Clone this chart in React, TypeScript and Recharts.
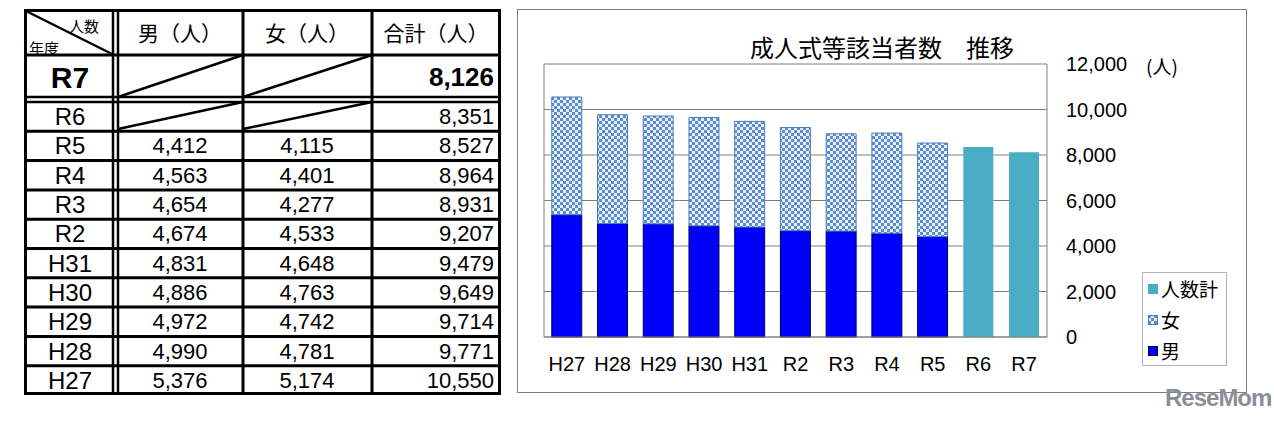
import { BarChart, Bar, XAxis, YAxis, CartesianGrid } from 'recharts'

// 年度 (oldest first, as in the chart)
const years = ['H27', 'H28', 'H29', 'H30', 'H31', 'R2', 'R3', 'R4', 'R5', 'R6', 'R7']
const male = [5376, 4990, 4972, 4886, 4831, 4674, 4654, 4563, 4412, null, null]
const female = [5174, 4781, 4742, 4763, 4648, 4533, 4277, 4401, 4115, null, null]
const totals = [10550, 9771, 9714, 9649, 9479, 9207, 8931, 8964, 8527, 8351, 8126]
const yTicks = [0, 2000, 4000, 6000, 8000, 10000, 12000]

const JP = '"Noto Sans CJK JP", "Noto Sans", sans-serif'
const LAT = '"Liberation Sans", Arial, sans-serif'

const BLUE = '#0000ff'
const TEAL = '#4bacc6'
const fmt = (v: number | null) => (v == null ? '' : v.toLocaleString('en-US'))

const chartData = years.map((y, i) => ({
  year: y,
  男: male[i],
  女: female[i],
  人数計: male[i] == null ? totals[i] : null,
}))

function Checker({ id }: { id: string }) {
  return (
    <pattern id={id} patternUnits="userSpaceOnUse" width={6} height={6}>
      <rect width={6} height={6} fill="#eaf1fb" />
      <rect width={3} height={3} fill="#5b8bd4" />
      <rect x={3} y={3} width={3} height={3} fill="#5b8bd4" />
    </pattern>
  )
}

function DataTable() {
  const rows = years.slice(0, 10).reverse() // R6 ... H27
  const rowTop = (i: number) => 102 + i * 29.3
  const lines: JSX.Element[] = []
  for (let i = 1; i < rows.length; i++) {
    const y = rowTop(i)
    lines.push(<line key={'h' + i} x1={24} x2={501} y1={y} y2={y} stroke="#000" strokeWidth={3} />)
  }
  return (
    <svg width={510} height={400} style={{ position: 'absolute', left: 0, top: 0 }}>
      <rect x={25.5} y={10.5} width={474} height={383} fill="#fff" stroke="#000" strokeWidth={3} />
      {/* header */}
      <line x1={24} x2={501} y1={55} y2={55} stroke="#000" strokeWidth={3} />
      <line x1={24} x2={501} y1={97} y2={97} stroke="#000" strokeWidth={2.5} />
      <line x1={24} x2={501} y1={102} y2={102} stroke="#000" strokeWidth={2.5} />
      <line x1={113} x2={113} y1={9} y2={395} stroke="#000" strokeWidth={2.5} />
      <line x1={118} x2={118} y1={9} y2={395} stroke="#000" strokeWidth={2.5} />
      <line x1={243} x2={243} y1={9} y2={395} stroke="#000" strokeWidth={3} />
      <line x1={372} x2={372} y1={9} y2={395} stroke="#000" strokeWidth={3} />
      {lines}
      <line x1={26} y1={11} x2={112} y2={54} stroke="#000" strokeWidth={2.5} />
      {/* slashes for R7 / R6 */}
      <line x1={118} y1={97} x2={243} y2={55} stroke="#000" strokeWidth={2.5} />
      <line x1={243} y1={97} x2={372} y2={55} stroke="#000" strokeWidth={2.5} />
      <line x1={118} y1={129} x2={243} y2={102} stroke="#000" strokeWidth={2.5} />
      <line x1={243} y1={129} x2={372} y2={102} stroke="#000" strokeWidth={2.5} />

      <text x={99} y={25} textAnchor="end" dominantBaseline="central" fontFamily={JP} fontSize={15}>人数</text>
      <text x={29} y={47} dominantBaseline="central" fontFamily={JP} fontSize={15}>年度</text>
      <text x={180} y={32} textAnchor="middle" dominantBaseline="central" fontFamily={JP} fontSize={21}>男（人）</text>
      <text x={307} y={32} textAnchor="middle" dominantBaseline="central" fontFamily={JP} fontSize={21}>女（人）</text>
      <text x={436} y={32} textAnchor="middle" dominantBaseline="central" fontFamily={JP} fontSize={21}>合計（人）</text>

      <text x={70} y={77} textAnchor="middle" dominantBaseline="central" fontFamily={LAT} fontWeight="bold" fontSize={30}>{years[10]}</text>
      <text x={494} y={77} textAnchor="end" dominantBaseline="central" fontFamily={LAT} fontWeight="bold" fontSize={26}>{fmt(totals[10])}</text>

      {rows.map((y, i) => {
        const idx = years.indexOf(y)
        const cy = rowTop(i) + 14.6
        return (
          <g key={y} fontFamily={LAT} dominantBaseline="central">
            <text x={70} y={cy} textAnchor="middle" fontSize={24}>{y}</text>
            <text x={180} y={cy} textAnchor="middle" fontSize={22}>{fmt(male[idx])}</text>
            <text x={307} y={cy} textAnchor="middle" fontSize={22}>{fmt(female[idx])}</text>
            <text x={494} y={cy} textAnchor="end" fontSize={22}>{fmt(totals[idx])}</text>
          </g>
        )
      })}
    </svg>
  )
}

function LegendBox() {
  const items = [
    { name: '人数計', kind: 'total' },
    { name: '女', kind: 'female' },
    { name: '男', kind: 'male' },
  ]
  return (
    <div
      style={{
        position: 'absolute', left: 624, top: 262, width: 85, height: 94,
        border: '1px solid #b4b4b4', boxSizing: 'border-box', background: '#fff',
      }}
    >
      {items.map((it, i) => (
        <div
          key={it.name}
          style={{
            position: 'absolute', left: 5, top: 4 + i * 31, height: 24,
            display: 'flex', alignItems: 'center', gap: 3,
            fontFamily: JP, fontSize: 19, lineHeight: '24px', color: '#000',
          }}
        >
          <svg width={10} height={10}>
            <defs><Checker id={'lg' + i} /></defs>
            {it.kind === 'total' && <rect x={0} y={0} width={10} height={10} fill={TEAL} />}
            {it.kind === 'female' && <rect x={0.5} y={0.5} width={9} height={9} fill={`url(#lg${i})`} stroke="#4a7ebb" />}
            {it.kind === 'male' && <rect x={0.5} y={0.5} width={9} height={9} fill={BLUE} stroke="#000040" />}
          </svg>
          <span>{it.name}</span>
        </div>
      ))}
    </div>
  )
}

export default function App() {
  return (
    <div style={{ position: 'absolute', left: 0, top: 0, width: 1274, height: 421, background: '#fff', overflow: 'hidden' }}>
      <DataTable />
      <div
        style={{
          position: 'absolute', left: 517, top: 9, width: 730, height: 384,
          border: '1px solid #808080', boxSizing: 'border-box', background: '#fff',
        }}
      >
        <div
          style={{
            position: 'absolute', left: 0, width: 728, top: 22, textAlign: 'center',
            fontFamily: JP, fontSize: 24, lineHeight: '30px', color: '#000',
          }}
        >
          成人式等該当者数　推移
        </div>
        <div style={{ position: 'absolute', left: 628, top: 44, fontFamily: JP, fontSize: 19, lineHeight: '24px' }}>(人)</div>
        <BarChart
          width={728}
          height={382}
          data={chartData}
          margin={{ top: 54, right: 119, left: 25, bottom: 25 }}
          barCategoryGap="17%"
        >
          <defs>
            <Checker id="checker" />
          </defs>
          <CartesianGrid yAxisId="r" vertical={false} stroke="#808080" />
          <XAxis
            dataKey="year"
            tickLine={false}
            axisLine={{ stroke: '#808080' }}
            tickMargin={14}
            height={30}
            interval={0}
            tick={{ fontSize: 20, fill: '#000', fontFamily: LAT }}
          />
          <YAxis
            yAxisId="l"
            orientation="left"
            width={1}
            domain={[0, 12000]}
            ticks={yTicks}
            tick={false}
            tickLine={false}
            axisLine={{ stroke: '#808080' }}
          />
          <YAxis
            yAxisId="r"
            orientation="right"
            width={80}
            domain={[0, 12000]}
            ticks={yTicks}
            tickLine={false}
            tickMargin={13}
            tickFormatter={(v: number) => fmt(v)}
            tick={{ fontSize: 20, fill: '#000', fontFamily: LAT, textAnchor: 'start' }}
            axisLine={{ stroke: '#808080' }}
          />
          <Bar yAxisId="r" dataKey="男" stackId="a" fill={BLUE} stroke="#000060" strokeWidth={1} isAnimationActive={false} />
          <Bar yAxisId="r" dataKey="女" stackId="a" fill="url(#checker)" stroke="#4a7ebb" strokeWidth={1} isAnimationActive={false} />
          <Bar yAxisId="r" dataKey="人数計" stackId="a" fill={TEAL} isAnimationActive={false} />
        </BarChart>
        <LegendBox />
      </div>
      <div
        style={{
          position: 'absolute', left: 1165, top: 384, fontFamily: '"Liberation Sans Narrow", "Liberation Sans", Arial, sans-serif',
          fontWeight: 'bold', fontSize: 24, color: '#8a8f96', letterSpacing: -1,
        }}
      >
        ReseMom
      </div>
    </div>
  )
}
